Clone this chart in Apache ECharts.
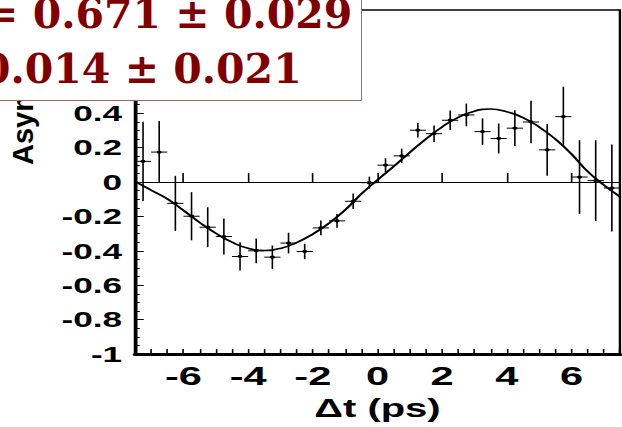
<!DOCTYPE html>
<html><head><meta charset="utf-8">
<script src="https://cdn.jsdelivr.net/npm/echarts@6/dist/echarts.min.js"></script>
<style>
html,body{margin:0;padding:0;background:#fff;overflow:hidden;}
#wrap{position:relative;width:622px;height:427px;overflow:hidden;background:#fff;}
#main{position:absolute;left:0;top:0;width:389px;height:427px;transform:scaleX(1.599);transform-origin:0 0;}
#over{position:absolute;left:0;top:0;width:622px;height:427px;}
</style></head><body>
<div id="wrap"><div id="main"></div><div id="over"></div></div>
<script>
// ---- data ----
const dtCenters = [-7.25,-6.75,-6.25,-5.75,-5.25,-4.75,-4.25,-3.75,-3.25,-2.75,-2.25,-1.75,-1.25,-0.75,-0.25,
                   0.25,0.75,1.25,1.75,2.25,2.75,3.25,3.75,4.25,4.75,5.25,5.75,6.25,6.75,7.25];
const asymValues = [0.120,0.174,-0.124,-0.199,-0.263,-0.317,-0.433,-0.400,-0.437,-0.355,-0.404,-0.267,-0.226,-0.112,-0.004,
                    0.098,0.152,0.301,0.281,0.359,0.390,0.293,0.253,0.313,0.349,0.187,0.380,0.029,0.008,-0.035];
const asymErrors = [0.230,0.180,0.160,0.140,0.116,0.105,0.082,0.072,0.068,0.060,0.045,0.043,0.040,0.045,0.035,
                    0.040,0.042,0.042,0.048,0.056,0.066,0.077,0.087,0.104,0.124,0.150,0.174,0.214,0.235,0.253];
const binHalfWidth = 0.25;
const fitDt = [-7.5,-7.0,-6.5,-6.0,-5.5,-5.0,-4.5,-4.0,-3.5,-3.0,-2.5,-2.0,-1.5,-1.0,-0.5,0.0,
               0.5,1.0,1.5,2.0,2.5,3.0,3.5,4.0,4.5,5.0,5.5,6.0,6.5,7.0,7.5];
const fitAsym = [0.004,-0.047,-0.098,-0.165,-0.235,-0.298,-0.350,-0.385,-0.398,-0.386,-0.352,-0.303,-0.240,-0.163,-0.070,0.012,
                 0.090,0.172,0.250,0.320,0.376,0.412,0.424,0.408,0.374,0.320,0.250,0.163,0.062,-0.017,-0.085];
const xTickLabels = [-6,-4,-2,0,2,4,6];
const yVisibleMax = 0.4; // labels above this sit under the fit-result box in the reference
const fitText = ['= 0.671 \u00b1 0.029', '0.014 \u00b1 0.021'];
const yTitle = 'Asymmetry';
const xTitle = '\u0394t (ps)';

const FONT = 'Liberation Sans';

const main = echarts.init(document.getElementById('main'), null, {renderer: 'svg'});
main.setOption({
  animation: false,
  backgroundColor: 'transparent',
  grid: {left: 84.4, right: 1.3, top: 10, bottom: 73, show: true, borderColor: '#000', borderWidth: 1.5, backgroundColor: 'transparent'},
  xAxis: [{
    type: 'value', min: -7.5, max: 7.5, interval: 0.5, position: 'bottom',
    axisLine: {show: true, onZero: false, lineStyle: {color: '#000', width: 3}},
    axisTick: {show: true, inside: true, length: 5, lineStyle: {color: '#000', width: 1}},
    axisLabel: {customValues: xTickLabels, margin: 9, fontSize: 26, fontWeight: 'bold', fontFamily: FONT, color: '#000'},
    splitLine: {show: false},
    name: xTitle, nameLocation: 'middle', nameGap: 42,
    nameTextStyle: {fontSize: 25, fontWeight: 'bold', fontFamily: FONT, color: '#000'}
  }, {
    type: 'value', min: -7.5, max: 7.5, position: 'bottom',
    axisLine: {show: false},
    axisTick: {show: true, inside: true, length: 9, customValues: xTickLabels, lineStyle: {color: '#000', width: 1}},
    axisLabel: {show: false}, splitLine: {show: false}
  }],
  yAxis: {
    type: 'value', min: -1, max: 1, interval: 0.2,
    axisLine: {show: true, onZero: false, lineStyle: {color: '#000', width: 2}},
    axisTick: {show: true, inside: true, length: 5.5, lineStyle: {color: '#000', width: 1}},
    minorTick: {show: true, splitNumber: 4, length: 3, lineStyle: {color: '#000', width: 1}},
    axisLabel: {margin: 8, fontSize: 22, fontWeight: 'bold', fontFamily: FONT, color: '#000',
      formatter: function (v) { return v > yVisibleMax + 1e-6 ? '' : String(Math.round(v * 10) / 10); }},
    splitLine: {show: false}, minorSplitLine: {show: false}
  },
  series: [{
    type: 'line', xAxisIndex: 0, yAxisIndex: 0,
    data: fitDt.map((t, i) => [t, fitAsym[i]]),
    smooth: true, showSymbol: false, symbol: 'none', z: 2,
    lineStyle: {color: '#000', width: 1.6},
    markLine: {silent: true, symbol: 'none', animation: false, label: {show: false},
      lineStyle: {color: '#000', width: 1, type: 'solid'}, data: [{yAxis: 0}]}
  }, {
    type: 'custom', xAxisIndex: 0, yAxisIndex: 0, z: 3,
    data: dtCenters.map((t, i) => [t, asymValues[i], asymErrors[i]]),
    renderItem: function (params, api) {
      const t = api.value(0), y = api.value(1), e = api.value(2);
      const top = api.coord([t, y + e]), bot = api.coord([t, y - e]);
      const l = api.coord([t - binHalfWidth, y]), r = api.coord([t + binHalfWidth, y]);
      const c = api.coord([t, y]);
      return {type: 'group', children: [
        {type: 'line', shape: {x1: top[0], y1: top[1], x2: bot[0], y2: bot[1]}, style: {stroke: '#000', lineWidth: 1}},
        {type: 'line', shape: {x1: l[0], y1: l[1], x2: r[0], y2: r[1]}, style: {stroke: '#000', lineWidth: 1}},
        {type: 'circle', shape: {cx: c[0], cy: c[1], r: 1.6}, style: {fill: '#000'}}
      ]};
    }
  }]
});

const over = echarts.init(document.getElementById('over'), null, {renderer: 'svg'});
over.setOption({
  animation: false,
  backgroundColor: 'transparent',
  graphic: [
    {type: 'text', rotation: Math.PI / 2, x: 22.5, y: 165,
     style: {text: yTitle, font: 'bold 29px "Liberation Sans"', fill: '#000', align: 'left', verticalAlign: 'middle'}},
    {type: 'rect', shape: {x: -2, y: -2, width: 363.5, height: 102.5},
     style: {fill: '#fff', stroke: '#a86464', lineWidth: 1}},
    {type: 'text', x: -16, y: 14,
     style: {text: fitText[0], font: 'bold 41px "DejaVu Serif"', fill: '#800000', align: 'left', verticalAlign: 'middle'}},
    {type: 'text', x: -18, y: 69,
     style: {text: fitText[1], font: 'bold 41px "DejaVu Serif"', fill: '#800000', align: 'left', verticalAlign: 'middle'}}
  ]
});
</script>
</body></html>
